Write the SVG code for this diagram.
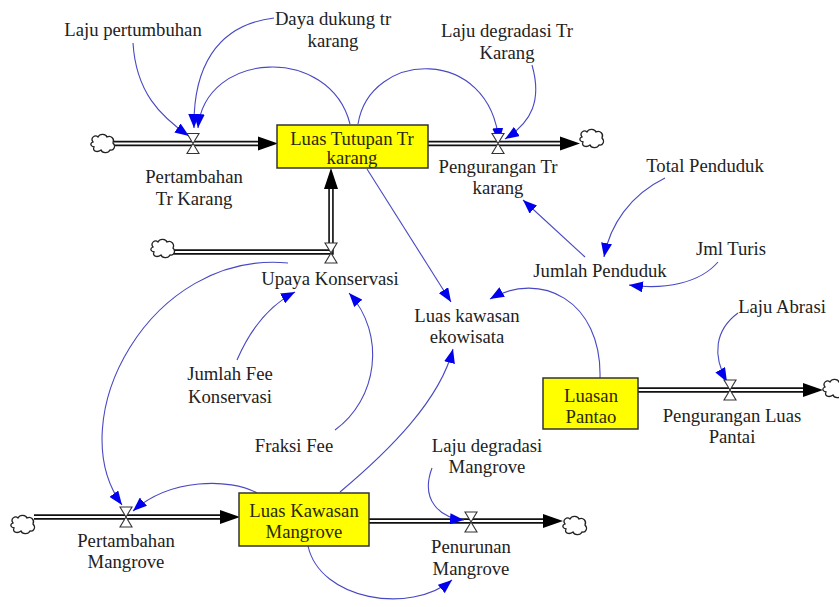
<svg xmlns="http://www.w3.org/2000/svg" width="839" height="607" viewBox="0 0 839 607">
<style>
text{font-family:"Liberation Serif","Times New Roman",serif;font-size:18.7px;fill:#222;text-anchor:middle}
.stock{fill:#ffff00;stroke:#333;stroke-width:1.5}
.stock+text,.st{fill:#2a2a00}
.flowo{fill:none;stroke:#111;stroke-width:5.5}
.flowi{fill:none;stroke:#fff;stroke-width:2.2}
.conn{fill:none;stroke:#4848c4;stroke-width:1.1}
.valve{fill:#fff;stroke:#333;stroke-width:1.1}
.cloud{fill:#fff;stroke:#222;stroke-width:1.3}
.fh{fill:#000}
</style>
<defs>
<marker id="ah" viewBox="0 0 14 11" refX="14" refY="5.5" markerWidth="14" markerHeight="11" markerUnits="userSpaceOnUse" orient="auto">
<path d="M0,0 L14,5.5 L0,11 Z" fill="#0000ee"/>
</marker>
<path id="cl" class="cloud" d="M-10,-2 C-13,-6 -8,-10 -5,-7 C-3,-11 3,-10 4,-7 C8,-9 12,-5 10,-1 C13,2 11,7 7,6 C5,10 -1,9 -2,6 C-6,9 -11,7 -9,3 C-13,2 -13,-1 -10,-2 Z"/>
<path id="vv" class="valve" d="M-6,-10 L6,-10 L0,0 Z M-6,10 L6,10 L0,0 Z"/>
</defs>

<g id="flows">
<path class="flowo" d="M114,143.5 L259,143.5"/><path class="flowi" d="M114,143.5 L259,143.5"/>
<path class="fh" d="M258,136.5 L278,143.5 L258,150.5 Z"/>
<path class="flowo" d="M428,143.5 L562,143.5"/><path class="flowi" d="M428,143.5 L562,143.5"/>
<path class="fh" d="M560,136.5 L580,143.5 L560,150.5 Z"/>
<path class="flowo" d="M174,252 L331,252 L331,187"/><path class="flowi" d="M174,252 L331,252 L331,187"/>
<path class="fh" d="M324,189 L331,168 L338,189 Z"/>
<path class="flowo" d="M638,390 L805,390"/><path class="flowi" d="M638,390 L805,390"/>
<path class="fh" d="M803,383 L823,390 L803,397 Z"/>
<path class="flowo" d="M34,517 L222,517"/><path class="flowi" d="M34,517 L222,517"/>
<path class="fh" d="M220,510 L240,517 L220,524 Z"/>
<path class="flowo" d="M369,521 L545,521"/><path class="flowi" d="M369,521 L545,521"/>
<path class="fh" d="M543,514 L563,521 L543,528 Z"/>
</g>

<g id="clouds">
<use href="#cl" x="103" y="144"/>
<use href="#cl" x="592" y="139"/>
<use href="#cl" x="163" y="249"/>
<use href="#cl" x="835" y="389"/>
<use href="#cl" x="23" y="525"/>
<use href="#cl" x="575" y="526"/>
</g>

<g id="connectors">
<path class="conn" marker-end="url(#ah)" d="M133,43 C136,92 160,116 189,136"/>
<path class="conn" marker-end="url(#ah)" d="M274,18 C215,25 193,70 194,128"/>
<path class="conn" marker-end="url(#ah)" d="M350,124 C330,45 205,50 198,128"/>
<path class="conn" marker-end="url(#ah)" d="M358,124 C370,50 490,45 499,142"/>
<path class="conn" marker-end="url(#ah)" d="M532,65 C542,100 532,122 505,139"/>
<path class="conn" marker-end="url(#ah)" d="M367,169 L451,302"/>
<path class="conn" marker-end="url(#ah)" d="M585,257 L523,200"/>
<path class="conn" marker-end="url(#ah)" d="M665,178 C630,195 610,225 604,257"/>
<path class="conn" marker-end="url(#ah)" d="M718,262 C700,283 665,290 629,285"/>
<path class="conn" marker-end="url(#ah)" d="M600,378 C602,300 540,270 490,299"/>
<path class="conn" marker-end="url(#ah)" d="M738,313 C715,330 712,355 727,382"/>
<path class="conn" marker-end="url(#ah)" d="M237,360 C250,330 270,305 295,292"/>
<path class="conn" marker-end="url(#ah)" d="M335,430 C377,400 387,335 349,293"/>
<path class="conn" marker-end="url(#ah)" d="M288,263 C150,250 60,420 122,505"/>
<path class="conn" marker-end="url(#ah)" d="M257,493 C230,478 170,478 133,511"/>
<path class="conn" marker-end="url(#ah)" d="M340,492 C390,450 440,400 453,349"/>
<path class="conn" marker-end="url(#ah)" d="M308,546 C320,600 410,615 452,580"/>
<path class="conn" marker-end="url(#ah)" d="M432,468 C420,500 440,518 464,520"/>
</g>

<g id="valves">
<use href="#vv" x="193" y="143.5"/>
<use href="#vv" x="498" y="143.5"/>
<use href="#vv" x="331" y="253"/>
<use href="#vv" x="730" y="390"/>
<use href="#vv" x="126" y="517"/>
<use href="#vv" x="471" y="522"/>
</g>

<g id="luas-tutupan"><rect class="stock" x="277" y="125" width="151" height="43"/><text class="st" x="352" y="145">Luas Tutupan Tr</text><text class="st" x="352" y="164">karang</text></g>
<g id="luasan-pantao"><rect class="stock" x="543" y="378" width="95" height="51"/><text class="st" x="591" y="402">Luasan</text><text class="st" x="591" y="423">Pantao</text></g>
<g id="luas-mangrove"><rect class="stock" x="239" y="493" width="130" height="53"/><text class="st" x="304" y="517">Luas Kawasan</text><text class="st" x="304" y="538">Mangrove</text></g>

<g id="laju-pertumbuhan"><text x="133" y="36">Laju pertumbuhan</text></g>
<g id="daya-dukung"><text x="333" y="25">Daya dukung tr</text><text x="333" y="47">karang</text></g>
<g id="laju-degradasi-tr"><text x="507" y="37">Laju degradasi Tr</text><text x="507" y="59">Karang</text></g>
<g id="pertambahan-tr"><text x="194" y="183">Pertambahan</text><text x="194" y="205">Tr Karang</text></g>
<g id="pengurangan-tr"><text x="498" y="173">Pengurangan Tr</text><text x="498" y="194">karang</text></g>
<g id="total-penduduk"><text x="705" y="172">Total Penduduk</text></g>
<g id="jumlah-penduduk"><text x="600" y="277">Jumlah Penduduk</text></g>
<g id="jml-turis"><text x="731" y="255">Jml Turis</text></g>
<g id="laju-abrasi"><text x="782" y="313">Laju Abrasi</text></g>
<g id="pengurangan-luas"><text x="732" y="422">Pengurangan Luas</text><text x="732" y="443">Pantai</text></g>
<g id="luas-ekowisata"><text x="467" y="322">Luas kawasan</text><text x="467" y="343">ekowisata</text></g>
<g id="upaya-konservasi"><text x="330" y="285">Upaya Konservasi</text></g>
<g id="jumlah-fee"><text x="230" y="380">Jumlah Fee</text><text x="230" y="403">Konservasi</text></g>
<g id="fraksi-fee"><text x="294" y="452">Fraksi Fee</text></g>
<g id="pertambahan-mangrove"><text x="126" y="547">Pertambahan</text><text x="126" y="568">Mangrove</text></g>
<g id="penurunan-mangrove"><text x="471" y="553">Penurunan</text><text x="471" y="575">Mangrove</text></g>
<g id="laju-degradasi-mangrove"><text x="487" y="452">Laju degradasi</text><text x="487" y="473">Mangrove</text></g>
</svg>
